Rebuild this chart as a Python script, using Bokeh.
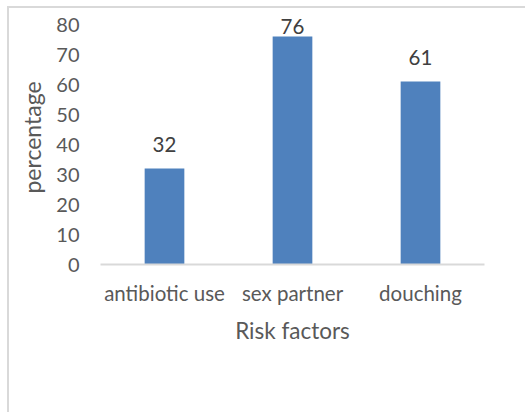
from bokeh.plotting import figure
from bokeh.models import FixedTicker, Range1d, ColumnDataSource, LabelSet
from bokeh.core.properties import value
from bokeh.embed import file_html
from bokeh.resources import INLINE

categories = ["antibiotic use", "sex partner", "douching"]
values = [32, 76, 61]
y_ticks = [0, 10, 20, 30, 40, 50, 60, 70, 80]

FONT = "Lato"
GREY = "#595959"

# data labels sit above each bar, kept inside the plot area (like the original)
label_y = [min(v + 8, 79.3) for v in values]
src = ColumnDataSource(dict(cat=categories, val=values, ly=label_y,
                            lab=[str(v) for v in values]))

p = figure(x_range=categories, y_range=Range1d(0, 84.67), width=518, height=406,
           output_backend="svg", toolbar_location=None,
           min_border_left=91, min_border_right=43, min_border_top=2, min_border_bottom=150)
p.styles = {"margin-left": "7px", "margin-top": "6px",
            "border-left": "2px solid #d9d9d9", "border-top": "2px solid #d9d9d9"}

p.vbar(x="cat", top="val", width=0.31, source=src, color="#4f81bd", line_color=None)

labels = LabelSet(x="cat", y="ly", text="lab", source=src, text_align="center",
                  text_baseline="middle", text_font=value(FONT),
                  text_font_size="20.5px", text_color="#404040")
p.add_layout(labels)

p.xgrid.grid_line_color = None
p.ygrid.grid_line_color = None
p.outline_line_color = None

p.yaxis.ticker = FixedTicker(ticks=y_ticks)
p.yaxis.axis_line_color = None
p.yaxis.major_tick_line_color = None
p.yaxis.minor_tick_line_color = None
p.yaxis.major_label_text_font = FONT
p.yaxis.major_label_text_font_size = "20px"
p.yaxis.major_label_text_color = GREY
p.yaxis.major_label_standoff = 15
p.yaxis.axis_label = "percentage"
p.yaxis.axis_label_text_font = FONT
p.yaxis.axis_label_text_font_size = "23px"
p.yaxis.axis_label_text_font_style = "normal"
p.yaxis.axis_label_text_color = GREY
p.yaxis.axis_label_standoff = 7

p.xaxis.axis_line_color = "#d9d9d9"
p.xaxis.axis_line_width = 2
p.xaxis.major_tick_line_color = None
p.xaxis.minor_tick_line_color = None
p.xaxis.major_label_text_font = FONT
p.xaxis.major_label_text_font_size = "20.5px"
p.xaxis.major_label_text_color = GREY
p.xaxis.major_label_standoff = 10
p.xaxis.axis_label = "Risk factors"
p.xaxis.axis_label_text_font = FONT
p.xaxis.axis_label_text_font_size = "22.5px"
p.xaxis.axis_label_text_font_style = "normal"
p.xaxis.axis_label_text_color = GREY
p.xaxis.axis_label_standoff = 9

open("out.html", "w").write(file_html(p, INLINE))
